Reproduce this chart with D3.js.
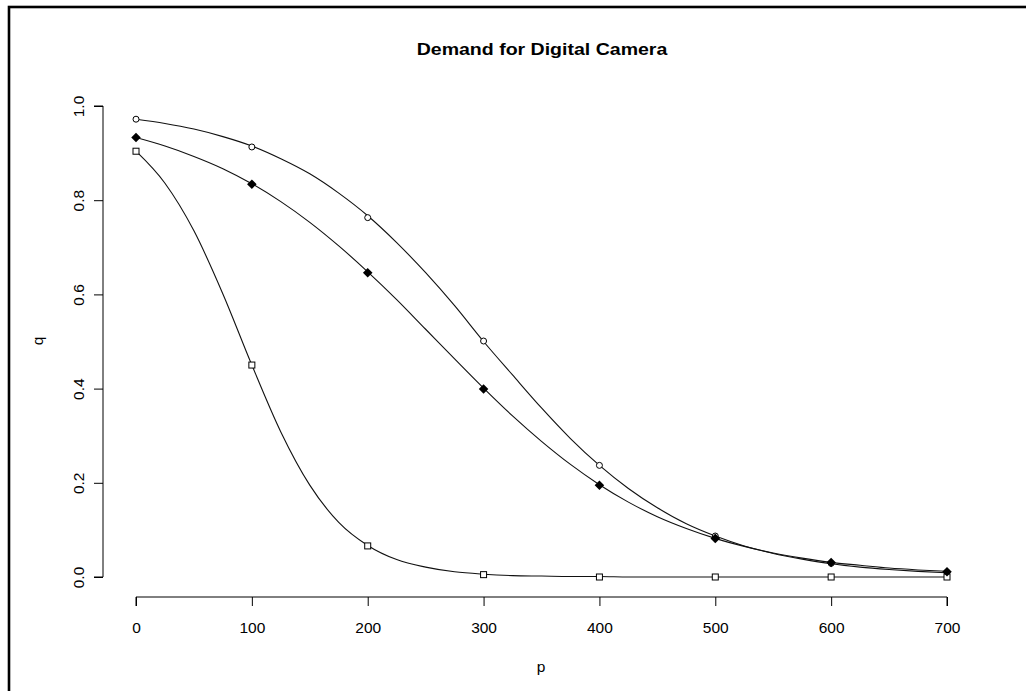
<!DOCTYPE html>
<html>
<head>
<meta charset="utf-8">
<script src="https://cdn.jsdelivr.net/npm/d3@7"></script>
<style>
  body { margin: 0; background: #fff; }
  svg { display: block; font-family: "Liberation Sans", Arial, sans-serif; }
</style>
</head>
<body>
<svg id="drawing_region"></svg>
<script>
// marker positions (price p) and the demand q
const prices = [0, 100, 200, 300, 400, 500, 600, 700];
const circleQ  = [0.972, 0.913, 0.763, 0.501, 0.237, 0.087, 0.029, 0.010];
const diamondQ = [0.933, 0.834, 0.646, 0.399, 0.195, 0.082, 0.031, 0.011];
const squareQ  = [0.904, 0.450, 0.066, 0.005, 0.000, 0.000, 0.000, 0.000];

// the drawn curves, read every 25 along p
const curveP = [0, 25, 50, 75, 100, 125, 150, 175, 200, 225, 250, 275, 300, 325,
                350, 375, 400, 425, 450, 475, 500, 525, 550, 575, 600, 625, 650, 675, 700];
const circleCurve  = [0.972, 0.963, 0.951, 0.935, 0.915, 0.888, 0.856, 0.815, 0.767, 0.710,
                      0.646, 0.576, 0.500, 0.429, 0.359, 0.294, 0.237, 0.188, 0.147, 0.113,
                      0.087, 0.066, 0.050, 0.038, 0.028, 0.021, 0.016, 0.012, 0.009];
const diamondCurve = [0.933, 0.915, 0.893, 0.867, 0.835, 0.797, 0.753, 0.703, 0.648, 0.589,
                      0.526, 0.463, 0.401, 0.342, 0.288, 0.239, 0.196, 0.159, 0.128, 0.103,
                      0.082, 0.065, 0.051, 0.040, 0.031, 0.025, 0.019, 0.015, 0.012];
const squareCurve  = [0.904, 0.836, 0.735, 0.601, 0.450, 0.308, 0.195, 0.116, 0.067, 0.037,
                      0.021, 0.011, 0.006, 0.003, 0.002, 0.001, 0.001, 0.000, 0.000, 0.000,
                      0.000, 0.000, 0.000, 0.000, 0.000, 0.000, 0.000, 0.000, 0.000];

const xTicks = [0, 100, 200, 300, 400, 500, 600, 700];
const yTicks = [0.0, 0.2, 0.4, 0.6, 0.8, 1.0];

const title = "Demand for Digital Camera";
const xLabel = "p";
const yLabel = "q";

const W = 1026, H = 691;
const svg = d3.select("#drawing_region").attr("width", W).attr("height", H);

// figure frame (only top and left edges fall inside the picture)
svg.append("rect")
    .attr("x", 9).attr("y", 7)
    .attr("width", W + 20).attr("height", H + 20)
    .attr("fill", "none").attr("stroke", "#000").attr("stroke-width", 2.6);

const x = d3.scaleLinear().domain([0, 700]).range([136, 947]);
const y = d3.scaleLinear().domain([0, 1]).range([577, 106]);

const fontSize = "15.5px";

// x axis, R style: line only spans the tick range, offset below
const xAxis = svg.append("g").attr("transform", "translate(0,597)")
    .call(d3.axisBottom(x).tickValues(xTicks).tickSize(9).tickPadding(16).tickFormat(d3.format("d")));
const yAxis = svg.append("g").attr("transform", "translate(103,0)")
    .call(d3.axisLeft(y).tickValues(yTicks).tickSize(9).tickFormat(d3.format(".1f")));

[xAxis, yAxis].forEach(a => {
    a.select(".domain").attr("stroke", "#000");
    a.selectAll(".tick line").attr("stroke", "#000");
    a.selectAll("text").attr("fill", "#000").style("font-size", fontSize)
        .style("font-family", "'Liberation Sans', Arial, sans-serif");
});
xAxis.select(".domain").attr("d", `M${x(0)},9V0H${x(700)}V9`);
yAxis.select(".domain").attr("d", `M-9,${y(0)}H0V${y(1)}H-9`);

// rotated y tick labels
yAxis.selectAll(".tick text")
    .attr("x", 0).attr("dy", null)
    .attr("text-anchor", "middle")
    .attr("transform", "translate(-19,0) rotate(-90)");

// titles
svg.append("text").attr("transform", "translate(542,55) scale(1.15,1)")
    .attr("text-anchor", "middle").style("font-size", "17px").style("font-weight", "bold")
    .text(title);
svg.append("text").attr("x", 541).attr("y", 672)
    .attr("text-anchor", "middle").style("font-size", fontSize).text(xLabel);
svg.append("text").attr("transform", "translate(43,341) rotate(-90)")
    .attr("text-anchor", "middle").style("font-size", fontSize).text(yLabel);

// curves
const line = d3.line()
    .x((d, i) => x(curveP[i]))
    .y(d => y(d))
    .curve(d3.curveMonotoneX);

[circleCurve, diamondCurve, squareCurve].forEach(c => {
    svg.append("path").attr("d", line(c))
        .attr("fill", "none").attr("stroke", "#111").attr("stroke-width", 1.1);
});

// markers
const marks = svg.append("g");
marks.selectAll(".circ").data(circleQ).enter().append("circle")
    .attr("cx", (d, i) => x(prices[i])).attr("cy", d => y(d))
    .attr("r", 3).attr("fill", "#fff").attr("stroke", "#000").attr("stroke-width", 1);

marks.selectAll(".sq").data(squareQ).enter().append("rect")
    .attr("x", (d, i) => x(prices[i]) - 3).attr("y", d => y(d) - 3)
    .attr("width", 6).attr("height", 6)
    .attr("fill", "#fff").attr("stroke", "#000").attr("stroke-width", 1);

const diamond = d3.symbol().type(d3.symbolDiamond2).size(58);
marks.selectAll(".dia").data(diamondQ).enter().append("path")
    .attr("d", diamond)
    .attr("transform", (d, i) => `translate(${x(prices[i])},${y(d)})`)
    .attr("fill", "#000");
</script>
</body>
</html>
